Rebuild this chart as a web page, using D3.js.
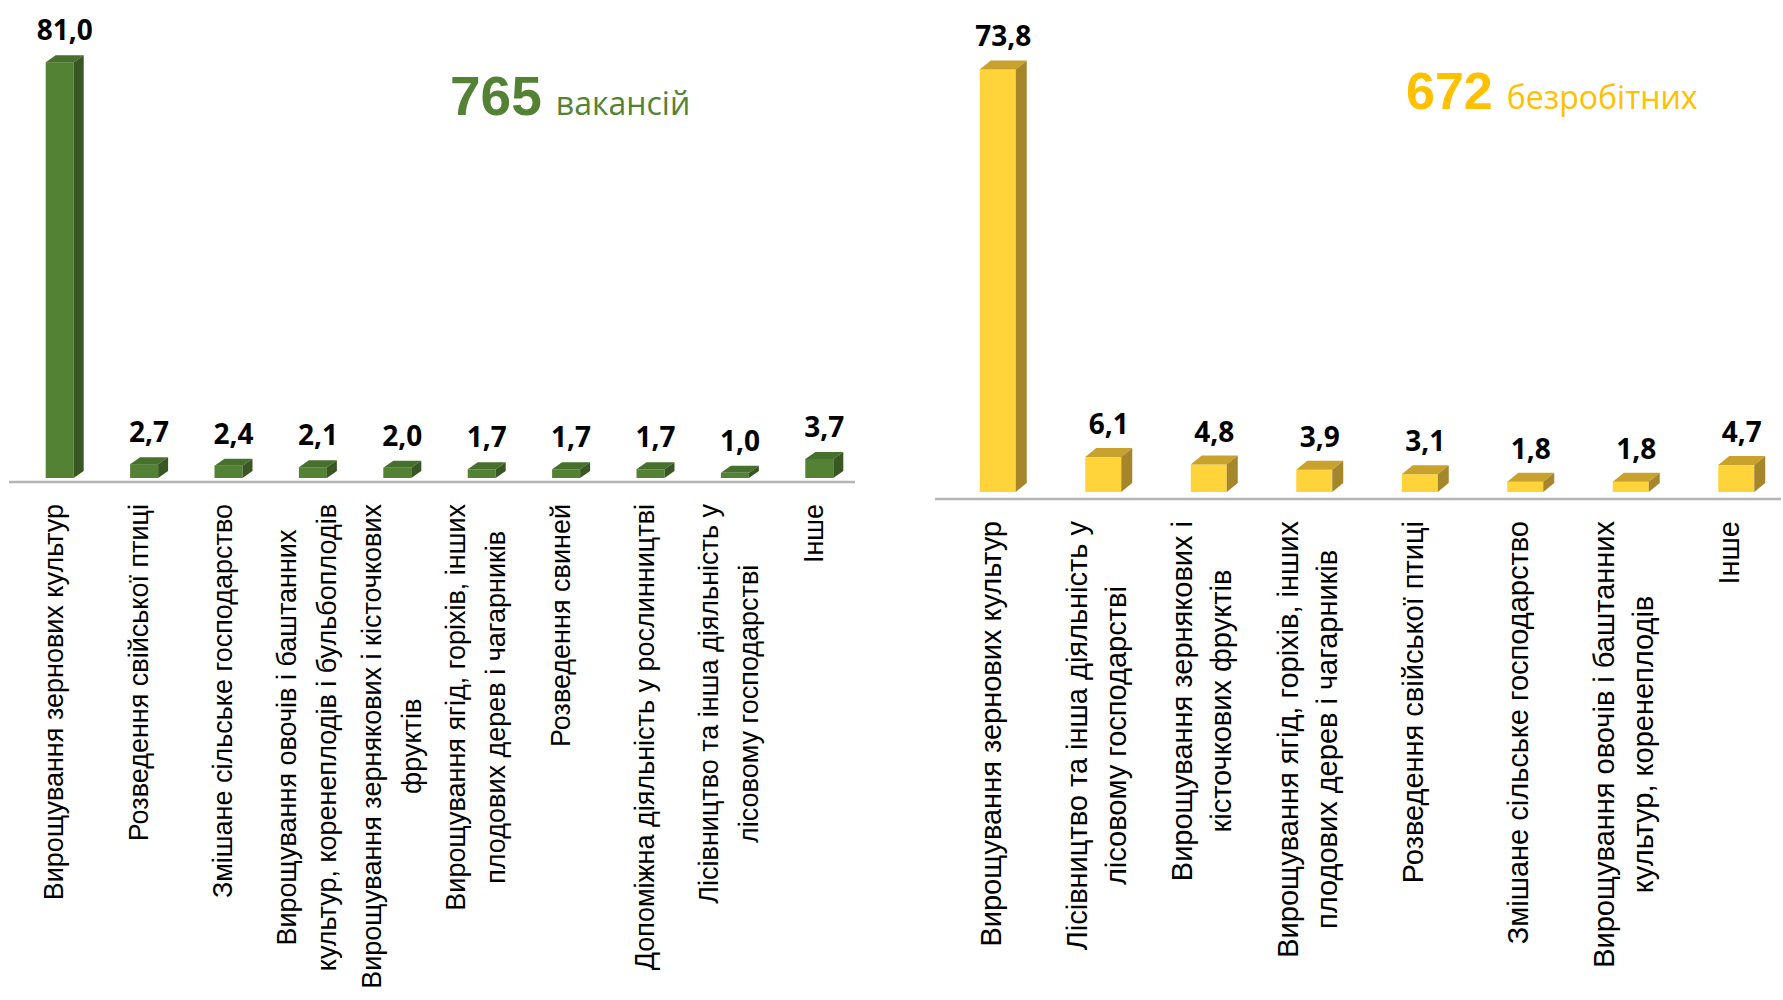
<!DOCTYPE html>
<html>
<head>
<meta charset="utf-8">
<script src="https://cdn.jsdelivr.net/npm/d3@7"></script>
<style>
    body { margin: 0; background: #fff; }
    svg { display: block; }
</style>
</head>
<body>
<div id="chart"></div>
<script>
(function(){
    // vacancies by activity, %
    const vacancyCategories = [
        "Вирощування зернових культур",
        "Розведення свійської птиці",
        "Змішане сільське господарство",
        "Вирощування овочів і баштанних\nкультур, коренеплодів і бульбоплодів",
        "Вирощування зернякових і кісточкових\nфруктів",
        "Вирощування ягід, горіхів, інших\nплодових дерев і чагарників",
        "Розведення свиней",
        "Допоміжна діяльність у рослинництві",
        "Лісівництво та інша діяльність у\nлісовому господарстві",
        "Інше"
    ];
    const vacancyValues = [81.0, 2.7, 2.4, 2.1, 2.0, 1.7, 1.7, 1.7, 1.0, 3.7];

    // unemployed by activity, %
    const unemployedCategories = [
        "Вирощування зернових культур",
        "Лісівництво та інша діяльність у\nлісовому господарстві",
        "Вирощування зернякових і\nкісточкових фруктів",
        "Вирощування ягід, горіхів, інших\nплодових дерев і чагарників",
        "Розведення свійської птиці",
        "Змішане сільське господарство",
        "Вирощування овочів і баштанних\nкультур, коренеплодів",
        "Інше"
    ];
    const unemployedValues = [73.8, 6.1, 4.8, 3.9, 3.1, 1.8, 1.8, 4.7];

    const totals = [
        { number: "765", word: "вакансій" },
        { number: "672", word: "безробітних" }
    ];

    const fullWidth = 1783;
    const fullHeight = 1000;

    const svg = d3.select("#chart")
        .append('svg')
            .attr('width', fullWidth)
            .attr('height', fullHeight);

    const fmt = v => d3.format('.1f')(v).replace('.', ',');

    function drawChart(opt) {
        const g = svg.append('g');

        const xScale = d3.scaleBand()
            .domain(opt.categories)
            .range(opt.xRange);

        const yScale = d3.scaleLinear()
            .domain(opt.yDomain)
            .range(opt.yRange);

        const base = yScale(0);

        // axis line
        g.append('line')
            .attr('x1', opt.xRange[0] - 3)
            .attr('x2', opt.xRange[1] - 1)
            .attr('y1', opt.axisY)
            .attr('y2', opt.axisY)
            .style('stroke', '#b4b4b4')
            .style('stroke-width', 2.5);

        const rows = opt.categories.map((c, i) => ({ cat: c, value: opt.values[i] }));

        const bar = g.selectAll('.bar')
            .data(rows)
            .enter()
            .append('g')
                .attr('class', 'bar');

        const w = opt.barWidth, dx = opt.depthX, dy = opt.depthY;
        const left = d => xScale(d.cat) + xScale.bandwidth() / 2 + opt.shift - w / 2;

        // front face
        bar.append('rect')
            .attr('x', left)
            .attr('y', d => yScale(d.value))
            .attr('width', w)
            .attr('height', d => base - yScale(d.value))
            .style('fill', opt.colors.front);

        // top face
        bar.append('path')
            .attr('d', d => {
                const x = left(d), y = yScale(d.value);
                return `M${x},${y}L${x + dx},${y - dy}L${x + w + dx},${y - dy}L${x + w},${y}Z`;
            })
            .style('fill', opt.colors.top);

        // side face
        bar.append('path')
            .attr('d', d => {
                const x = left(d) + w, y = yScale(d.value);
                return `M${x},${y}L${x + dx},${y - dy}L${x + dx},${base - dy}L${x},${base}Z`;
            })
            .style('fill', opt.colors.side);

        // value labels
        bar.append('text')
            .attr('x', d => left(d) + (w + dx) / 2)
            .attr('y', d => yScale(d.value) - dy - opt.labelGap)
            .attr('text-anchor', 'middle')
            .style('font-family', '"Open Sans", sans-serif')
            .style('font-weight', 700)
            .style('font-size', '28px')
            .style('fill', '#000')
            .text(d => fmt(d.value));

        // rotated category labels
        rows.forEach(d => {
            const cx = xScale(d.cat) + xScale.bandwidth() / 2;
            const lines = d.cat.split('\n');
            const lg = g.append('g')
                .attr('transform', `translate(${cx}, ${opt.labelTop}) rotate(-90)`);

            const texts = lines.map((line, i) => lg.append('text')
                .attr('y', (i - (lines.length - 1) / 2) * opt.lineHeight)
                .attr('dominant-baseline', 'central')
                .attr('text-anchor', 'middle')
                .style('font-family', '"Liberation Sans", Arial, sans-serif')
                .style('font-size', opt.labelSize + 'px')
                .style('fill', '#000')
                .text(line));

            const longest = d3.max(texts, t => t.node().getComputedTextLength());
            texts.forEach(t => t.attr('x', -longest / 2));
        });

        // total
        const title = g.append('text')
            .attr('x', opt.titleX)
            .attr('y', opt.titleY)
            .style('fill', opt.colors.title);

        title.append('tspan')
            .style('font-family', '"Liberation Sans", Arial, sans-serif')
            .style('font-weight', 700)
            .style('font-size', opt.titleSize + 'px')
            .text(opt.total.number);

        title.append('tspan')
            .attr('dx', 14)
            .style('font-family', '"Open Sans", sans-serif')
            .style('font-size', '32px')
            .text(opt.total.word);
    }

    drawChart({
        categories: vacancyCategories,
        values: vacancyValues,
        total: totals[0],
        xRange: [12, 856],
        yDomain: [0, 90],
        yRange: [478, 16],
        axisY: 482,
        barWidth: 28,
        depthX: 10,
        depthY: 7,
        shift: 5.5,
        labelGap: 15,
        labelTop: 504,
        labelSize: 27,
        lineHeight: 40,
        titleX: 450,
        titleY: 115,
        titleSize: 55,
        colors: { front: '#548235', top: '#46702c', side: '#385723', title: '#548235' }
    });

    drawChart({
        categories: unemployedCategories,
        values: unemployedValues,
        total: totals[1],
        xRange: [938, 1782],
        yDomain: [0, 80],
        yRange: [492, 34],
        axisY: 499,
        barWidth: 36,
        depthX: 11,
        depthY: 9,
        shift: 7,
        labelGap: 14,
        labelTop: 521,
        labelSize: 29,
        lineHeight: 39,
        titleX: 1406,
        titleY: 109,
        titleSize: 52,
        colors: { front: '#ffd43b', top: '#c9a22e', side: '#a6862a', title: '#ffc000' }
    });
}())
</script>
</body>
</html>
